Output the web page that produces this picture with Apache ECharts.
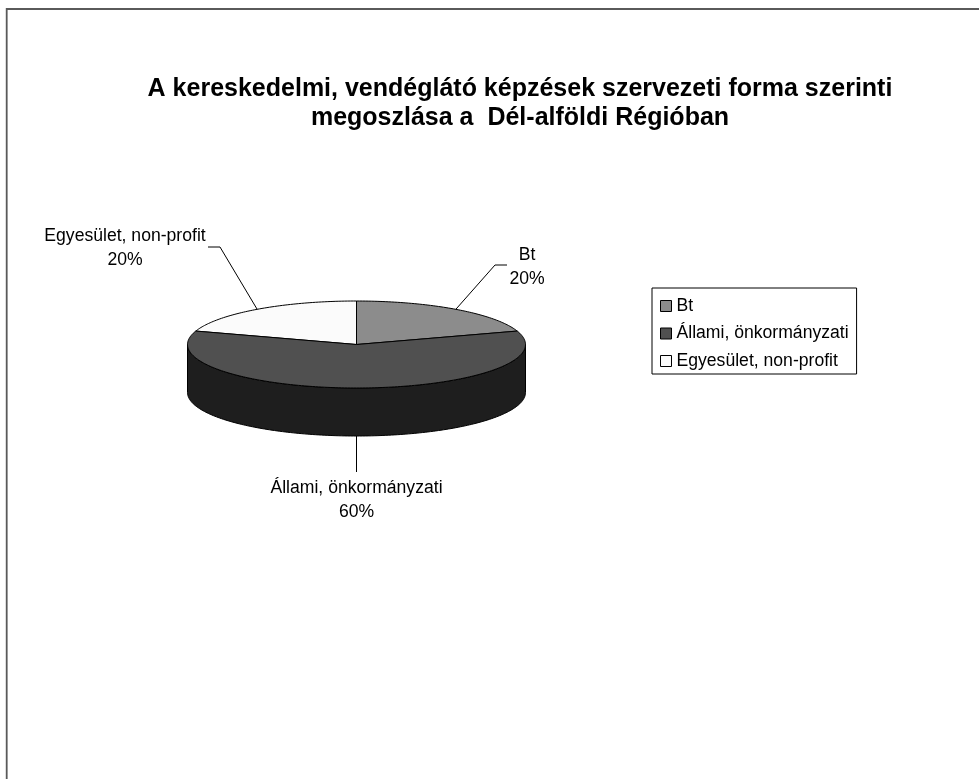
<!DOCTYPE html>
<html>
<head>
<meta charset="utf-8">
<style>html,body{margin:0;padding:0;background:#fff}#c{width:979px;height:779px}</style>
<script src="https://cdn.jsdelivr.net/npm/echarts@6/dist/echarts.min.js"></script>
</head>
<body>
<div id="c"></div>
<script>
const titleText = 'A kereskedelmi, vendéglátó képzések szervezeti forma szerinti\nmegoszlása a  Dél-alföldi Régióban';
const categories = ['Bt', 'Állami, önkormányzati', 'Egyesület, non-profit'];
const values = [20, 60, 20];
const topColors = ['#8c8c8c', '#505050', '#fbfbfb'];
const sideColors = ['#464646', '#1e1e1e', '#7d7d7d'];
const labelFont = '"Liberation Sans", Arial, sans-serif';

// layout of the tilted pie
const cx = 356.5, cy = 344.5, rx = 169, ry = 43.5, depth = 48;
const labelPos = [
  {elbowX: 495, elbowY: 265, endX: 507, x: 527, y: 267},
  {elbowX: 356.5, elbowY: 472, endX: 356.5, x: 356.5, y: 500},
  {elbowX: 220, elbowY: 247, endX: 208, x: 125, y: 248.5}
];

const total = values.reduce((a, b) => a + b, 0);
const pt = (deg, dy) => {
  const r = deg * Math.PI / 180;
  return [cx + rx * Math.sin(r), cy - ry * Math.cos(r) + (dy || 0)];
};
const arc = (a, b, dy) => {
  const out = [];
  const n = Math.max(1, Math.ceil(Math.abs(b - a)));
  for (let k = 0; k <= n; k++) out.push(pt(a + (b - a) * k / n, dy));
  return out;
};
function sliceRange(i) {
  let s = 0;
  for (let k = 0; k < i; k++) s += values[k];
  return [s / total * 360, (s + values[i]) / total * 360];
}
function renderSlice(i) {
  return function (params, api) {
    const [a, b] = sliceRange(i);
    const children = [];
    const sa = Math.max(a, 90), sb = Math.min(b, 270);
    const stroke = {fill: sideColors[i], stroke: '#000', lineWidth: 1};
    if (sb > sa) {
      children.push({type: 'polygon', shape: {points: arc(sa, sb, 0).concat(arc(sb, sa, depth))}, style: stroke});
    }
    children.push({
      type: 'polygon',
      shape: {points: [[cx, cy]].concat(arc(a, b, 0))},
      style: {fill: topColors[i], stroke: '#000', lineWidth: 1}
    });
    const mid = (a + b) / 2;
    const anchor = pt(mid, (mid > 90 && mid < 270) ? depth : 0);
    const L = labelPos[i];
    children.push({
      type: 'polyline',
      shape: {points: [anchor, [L.elbowX, L.elbowY], [L.endX, L.elbowY]]},
      style: {fill: 'none', stroke: '#000', lineWidth: 1}
    });
    children.push({
      type: 'text',
      style: {
        x: L.x, y: L.y,
        text: categories[i] + '\n' + Math.round(api.value(0) / total * 100) + '%',
        font: '17.6px ' + labelFont,
        fill: '#000', align: 'center', verticalAlign: 'middle', lineHeight: 24
      }
    });
    return {type: 'group', children};
  };
}

const chart = echarts.init(document.getElementById('c'), null, {renderer: 'canvas'});
chart.setOption({
  animation: false,
  backgroundColor: '#fff',
  title: {
    text: titleText,
    left: 515, top: 70, textAlign: 'center',
    textStyle: {fontFamily: labelFont, fontSize: 25, fontWeight: 'bold', color: '#000', lineHeight: 29}
  },
  legend: {
    orient: 'vertical',
    left: 652, top: 288,
    padding: [8, 8, 3, 8],
    borderColor: '#000', borderWidth: 1,
    backgroundColor: '#fff',
    icon: 'rect', itemWidth: 11, itemHeight: 11, itemGap: 7.5,
    itemStyle: {borderColor: '#000', borderWidth: 1},
    selectedMode: false,
    textStyle: {fontFamily: labelFont, fontSize: 17.6, color: '#000', lineHeight: 20},
    data: categories
  },
  graphic: [{
    type: 'polyline',
    silent: true,
    shape: {points: [[6.7, 800], [6.7, 9], [1000, 9]]},
    style: {fill: 'none', stroke: '#5a5a5a', lineWidth: 1.8}
  }],
  series: categories.map((name, i) => ({
    type: 'custom',
    name,
    coordinateSystem: 'none',
    silent: true,
    z: i === 1 ? 3 : 2,
    itemStyle: {color: topColors[i]},
    renderItem: renderSlice(i),
    data: [[values[i]]]
  }))
});
</script>
</body>
</html>
